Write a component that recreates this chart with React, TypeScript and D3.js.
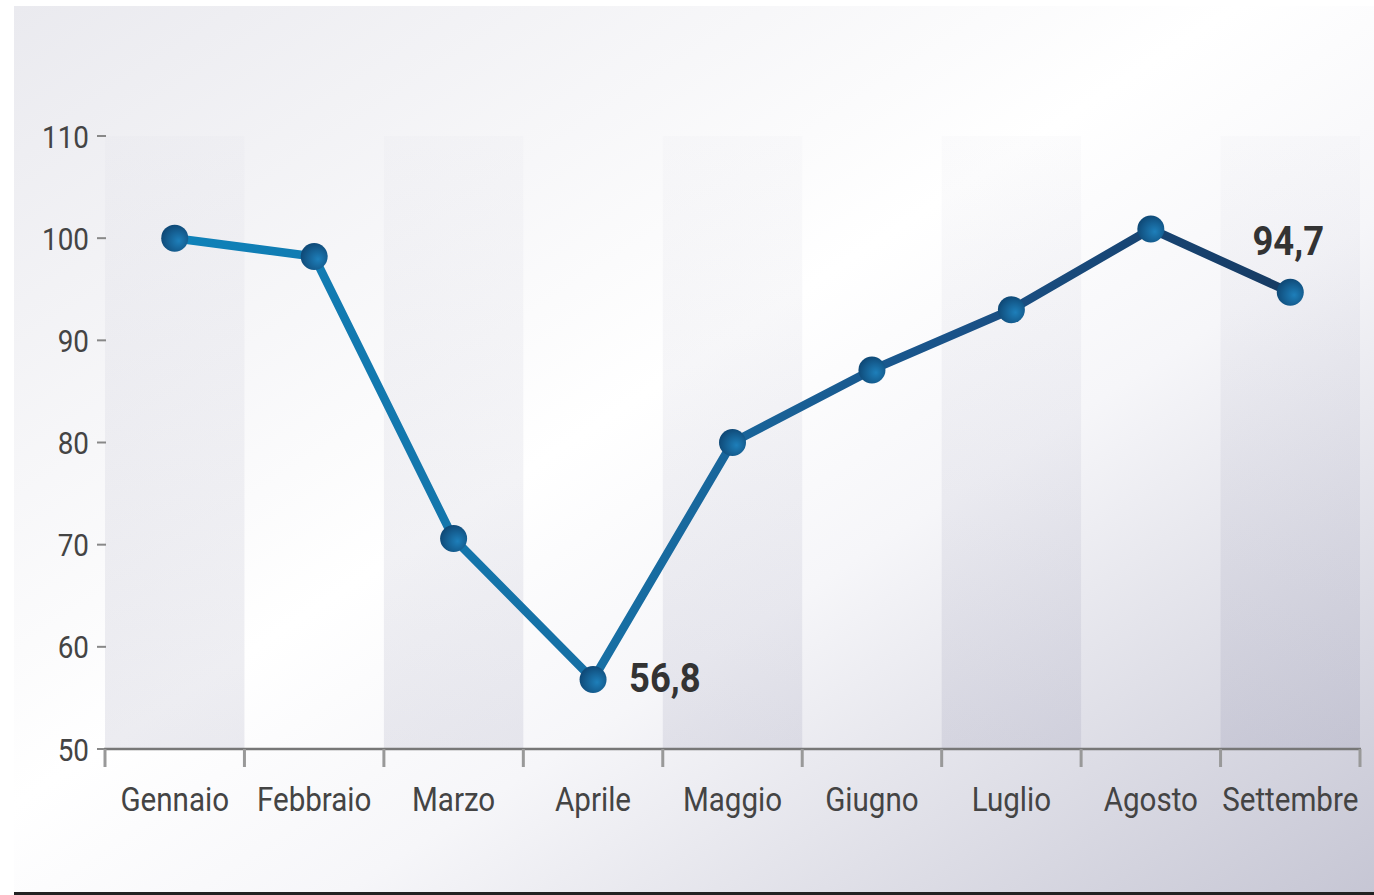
import React from "react";
import * as d3 from "d3";

const months = ["Gennaio", "Febbraio", "Marzo", "Aprile", "Maggio", "Giugno", "Luglio", "Agosto", "Settembre"];
const values = [100, 98.2, 70.6, 56.8, 80, 87.1, 93, 100.9, 94.7];
const yTicks = [50, 60, 70, 80, 90, 100, 110];
const labelled = [
  { index: 3, text: "56,8", dx: 36, dy: 12, anchor: "start" },
  { index: 8, text: "94,7", dx: -2, dy: -37, anchor: "middle" },
];

const W = 1374;
const H = 895;
const SX = 0.87;

function CText(props: {
  x: number;
  y: number;
  size: number;
  anchor: string;
  weight?: number;
  fill: string;
  dy?: string;
  sx?: number;
  children: React.ReactNode;
}) {
  const s = props.sx ?? SX;
  return (
    <text
      transform={`translate(${props.x},${props.y}) scale(${s},1)`}
      dy={props.dy}
      textAnchor={props.anchor as any}
      fontFamily="Roboto, 'Noto Sans', sans-serif"
      fontSize={props.size}
      fontWeight={props.weight ?? 400}
      fill={props.fill}
    >
      {props.children}
    </text>
  );
}

export default function App() {
  const x = d3.scaleBand<string>().domain(months).range([105, 1360]).padding(0);
  const y = d3.scaleLinear().domain([50, 110]).range([749, 136]);
  const cx = (m: string) => (x(m) as number) + x.bandwidth() / 2;
  const line = d3
    .line<number>()
    .x((_, i) => cx(months[i]))
    .y((d) => y(d));
  const bw = x.bandwidth();
  const edges = months.map((m) => x(m) as number).concat([x.range()[1]]);

  return (
    <svg width={W} height={H} style={{ position: "absolute", left: 0, top: 0 }}>
      <defs>
        <linearGradient id="bg" x1="0" y1="0" x2="1" y2="1">
          <stop offset="0" stopColor="#eaeaef" />
          <stop offset="0.45" stopColor="#ffffff" />
          <stop offset="0.62" stopColor="#f6f6f9" />
          <stop offset="1" stopColor="#c6c6d4" />
        </linearGradient>
        <linearGradient id="band" x1="0" y1="0" x2="0" y2="1">
          <stop offset="0" stopColor="#6a6a90" stopOpacity="0.02" />
          <stop offset="1" stopColor="#6a6a90" stopOpacity="0.13" />
        </linearGradient>
        <linearGradient id="lineGrad" gradientUnits="userSpaceOnUse" x1={cx(months[0])} y1="0" x2={cx(months[8])} y2="0">
          <stop offset="0" stopColor="#0f82b9" />
          <stop offset="0.4" stopColor="#176ea3" />
          <stop offset="0.7" stopColor="#1a5288" />
          <stop offset="1" stopColor="#163a62" />
        </linearGradient>
        <radialGradient id="dot" cx="0.6" cy="0.6" r="0.6" fx="0.65" fy="0.6">
          <stop offset="0" stopColor="#1e7fba" />
          <stop offset="1" stopColor="#0f4a78" />
        </radialGradient>
      </defs>
      <rect x={14} y={6} width={W - 14} height={H - 6} fill="url(#bg)" />
      {months.map((m, i) =>
        i % 2 === 0 ? (
          <rect key={m} x={x(m)} y={y(110)} width={bw} height={y(50) - y(110)} fill="url(#band)" />
        ) : null
      )}
      <line x1={14} x2={W} y1={893.5} y2={893.5} stroke="#222" strokeWidth={3} />
      {yTicks.map((t) => (
        <g key={t}>
          <line x1={97} x2={106} y1={y(t)} y2={y(t)} stroke="#888" strokeWidth={2} />
          <CText x={89} y={y(t)} dy="0.36em" anchor="end" size={32} fill="#444">
            {t}
          </CText>
        </g>
      ))}
      <line x1={104} x2={1361} y1={749} y2={749} stroke="#777" strokeWidth={2.5} />
      {edges.map((e, i) => (
        <line key={i} x1={e} x2={e} y1={749} y2={767} stroke="#999" strokeWidth={3} />
      ))}
      {months.map((m) => (
        <CText key={m} x={cx(m)} y={811} anchor="middle" size={34} fill="#444">
          {m}
        </CText>
      ))}
      <path d={line(values) as string} fill="none" stroke="url(#lineGrad)" strokeWidth={8.5} strokeLinejoin="round" />
      {values.map((v, i) => (
        <circle key={i} cx={cx(months[i])} cy={y(v)} r={13.5} fill="url(#dot)" />
      ))}
      {labelled.map((l) => (
        <CText
          key={l.index}
          x={cx(months[l.index]) + l.dx}
          y={y(values[l.index]) + l.dy}
          anchor={l.anchor}
          weight={700}
          size={40}
          sx={0.91}
          fill="#333"
        >
          {l.text}
        </CText>
      ))}
    </svg>
  );
}
